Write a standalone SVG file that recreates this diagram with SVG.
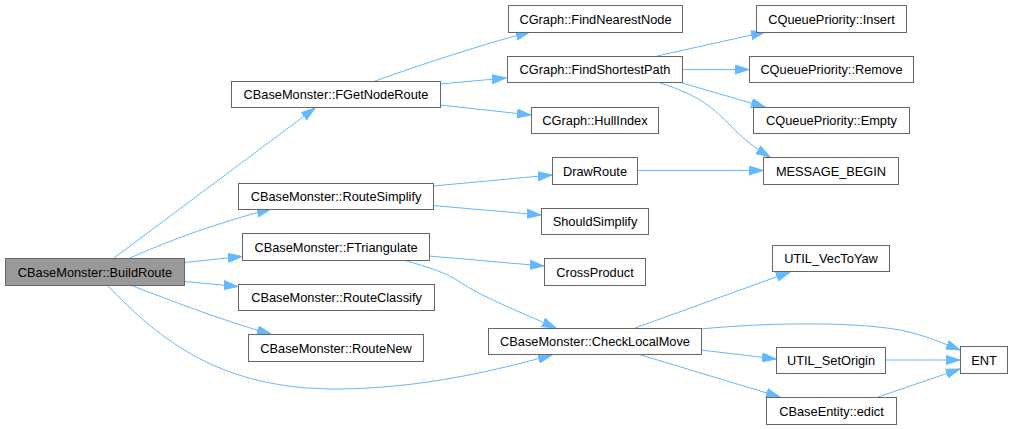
<svg xmlns="http://www.w3.org/2000/svg" width="1012" height="429" viewBox="0 0 1012 429">
<style>
.n rect{fill:#ffffff;stroke:#666666;stroke-width:1}
.n.root rect{fill:#999999}
.n text{font-family:"Liberation Sans",Arial,sans-serif;font-size:12.8px;fill:#000000;text-anchor:middle}
.e path{fill:none;stroke:#63b8ff;stroke-width:1;marker-end:url(#ah)}
</style>
<defs>
<marker id="ah" markerUnits="userSpaceOnUse" markerWidth="15" markerHeight="10" refX="14" refY="5" orient="auto">
<path d="M0,0.5 L14,5 L0,9.5 z" fill="#63b8ff" stroke="#63b8ff" stroke-width="1"/>
</marker>
</defs>
<rect width="1012" height="429" fill="#ffffff"/>
<g id="edges" class="e">
<path d="M114,258 L315,108"/>
<path d="M130,258 C170,240 220,222 271,209"/>
<path d="M184,262.5 L242,256.5"/>
<path d="M184,281.5 L238,286.5"/>
<path d="M130,285 C170,300 220,320 271,334"/>
<path d="M107,285 C160,340 220,390 340,389 C420,388 490,372 552,355"/>
<path d="M375,81 C420,65 480,45 530,32"/>
<path d="M440,84 L506,78"/>
<path d="M440,105 L531,115"/>
<path d="M433,186 L552,175"/>
<path d="M433,205.5 L541,215"/>
<path d="M429,256 L544,266"/>
<path d="M404,260 C430,268 445,272 460,282 C480,296 520,312 556,328"/>
<path d="M657,56 L765,32"/>
<path d="M682,69.5 L749,69.5"/>
<path d="M682,83 L765,107"/>
<path d="M660,83 C700,95 715,110 730,125 C742,138 755,148 770,157"/>
<path d="M637,170.5 L763,170.5"/>
<path d="M635,328 L790,272"/>
<path d="M701,329 C760,323 850,321 900,330 C925,335 945,344 960,350"/>
<path d="M701,350 L776,359"/>
<path d="M641,355 L780,397"/>
<path d="M885,360 L960,360"/>
<path d="M878,397 L960,369"/>
</g>
<g id="BuildRoute" class="n root"><rect x="5.5" y="258.5" width="179" height="27"/><text x="95" y="276.5">CBaseMonster::BuildRoute</text></g>
<g id="FGetNodeRoute" class="n"><rect x="231.5" y="81.5" width="209" height="26"/><text x="336" y="99">CBaseMonster::FGetNodeRoute</text></g>
<g id="RouteSimplify" class="n"><rect x="238.5" y="183.5" width="195" height="26"/><text x="336" y="201">CBaseMonster::RouteSimplify</text></g>
<g id="FTriangulate" class="n"><rect x="242.5" y="233.5" width="187" height="27"/><text x="336" y="251.5">CBaseMonster::FTriangulate</text></g>
<g id="RouteClassify" class="n"><rect x="238.5" y="284.5" width="196" height="26"/><text x="336.5" y="302">CBaseMonster::RouteClassify</text></g>
<g id="RouteNew" class="n"><rect x="248.5" y="334.5" width="175" height="27"/><text x="336" y="352.5">CBaseMonster::RouteNew</text></g>
<g id="FindNearestNode" class="n"><rect x="508.5" y="5.5" width="174" height="27"/><text x="595.5" y="23.5">CGraph::FindNearestNode</text></g>
<g id="FindShortestPath" class="n"><rect x="507.5" y="56.5" width="175" height="26"/><text x="595" y="74">CGraph::FindShortestPath</text></g>
<g id="HullIndex" class="n"><rect x="531.5" y="107.5" width="127" height="26"/><text x="595" y="125">CGraph::HullIndex</text></g>
<g id="DrawRoute" class="n"><rect x="552.5" y="157.5" width="85" height="27"/><text x="595" y="175.5">DrawRoute</text></g>
<g id="ShouldSimplify" class="n"><rect x="541.5" y="208.5" width="107" height="26"/><text x="595" y="226">ShouldSimplify</text></g>
<g id="CrossProduct" class="n"><rect x="544.5" y="258.5" width="101" height="27"/><text x="595" y="276.5">CrossProduct</text></g>
<g id="CheckLocalMove" class="n"><rect x="488.5" y="328.5" width="213" height="26"/><text x="595" y="346">CBaseMonster::CheckLocalMove</text></g>
<g id="Insert" class="n"><rect x="756.5" y="5.5" width="150" height="27"/><text x="831.5" y="23.5">CQueuePriority::Insert</text></g>
<g id="Remove" class="n"><rect x="749.5" y="56.5" width="164" height="26"/><text x="831.5" y="74">CQueuePriority::Remove</text></g>
<g id="Empty" class="n"><rect x="753.5" y="107.5" width="156" height="26"/><text x="831.5" y="125">CQueuePriority::Empty</text></g>
<g id="MESSAGE_BEGIN" class="n"><rect x="763.5" y="157.5" width="135" height="27"/><text x="831" y="175.5">MESSAGE_BEGIN</text></g>
<g id="UTIL_VecToYaw" class="n"><rect x="772.5" y="245.5" width="117" height="26"/><text x="831" y="263">UTIL_VecToYaw</text></g>
<g id="UTIL_SetOrigin" class="n"><rect x="776.5" y="347.5" width="109" height="26"/><text x="831" y="365">UTIL_SetOrigin</text></g>
<g id="edict" class="n"><rect x="766.5" y="397.5" width="130" height="27"/><text x="831.5" y="415.5">CBaseEntity::edict</text></g>
<g id="ENT" class="n"><rect x="960.5" y="346.5" width="47" height="27"/><text x="984" y="364.5">ENT</text></g>
</svg>
